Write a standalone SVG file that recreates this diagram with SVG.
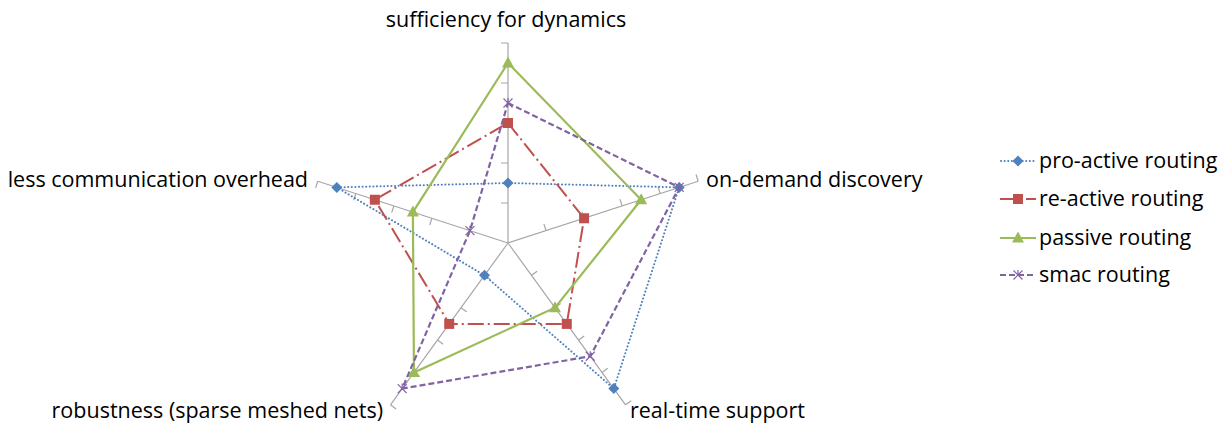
<svg xmlns="http://www.w3.org/2000/svg" width="1225" height="424" viewBox="0 0 1225 424">
<style>
.lbl{font-family:"Open Sans","Liberation Sans",sans-serif;font-size:21.5px;fill:#000}
.axis{stroke:#A6A6A6;stroke-width:1.2;fill:none}
.s1{stroke:#4F81BD;stroke-width:2;stroke-dasharray:0.1 3.5;stroke-linecap:round;fill:none}
.s2{stroke:#C0504D;stroke-width:2;stroke-dasharray:16 4 2 4;fill:none}
.s3{stroke:#9BBB59;stroke-width:2.2;fill:none}
.s4{stroke:#8064A2;stroke-width:2.2;stroke-dasharray:6 3;fill:none}
.m1{fill:#4F81BD}
.m2{fill:#C0504D}
.m3{fill:#9BBB59}
.m4{stroke:#8064A2;stroke-width:1.2;fill:none}
</style>
<defs>
<path id="dia" d="M0,-5.5 L5.5,0 L0,5.5 L-5.5,0Z"/>
<rect id="sq" x="-5" y="-5" width="10" height="10"/>
<path id="tri" d="M0,-6.5 L6,4.5 L-6,4.5Z"/>
<path id="xx" d="M-4.5,-4.5 L4.5,4.5 M4.5,-4.5 L-4.5,4.5 M0,-5 L0,-1"/>
</defs>
<rect width="1225" height="424" fill="#fff"/>
<g id="axes" class="axis">
<path d="M508,243 L508,43 M508,243 L698.21,181.2 M508,243 L625.56,404.8 M508,243 L390.44,404.8 M508,243 L317.79,181.2"/>
<path d="M508,203 h-7 M508,163 h-7 M508,123 h-7 M508,83 h-7 M508,43 h-7"/>
<path d="M546.04,230.64 l-2.16,-6.66 M584.08,218.28 l-2.16,-6.66 M622.13,205.92 l-2.16,-6.66 M660.17,193.56 l-2.16,-6.66 M698.21,181.2 l-2.16,-6.66"/>
<path d="M531.51,275.36 l5.66,-4.12 M555.02,307.72 l5.66,-4.12 M578.54,340.08 l5.66,-4.12 M602.05,372.44 l5.66,-4.12 M625.56,404.8 l5.66,-4.12"/>
<path d="M484.49,275.36 l5.66,4.12 M460.98,307.72 l5.66,4.12 M437.46,340.08 l5.66,4.12 M413.95,372.44 l5.66,4.12 M390.44,404.8 l5.66,4.12"/>
<path d="M469.96,230.64 l-2.16,6.66 M431.92,218.28 l-2.16,6.66 M393.87,205.92 l-2.16,6.66 M355.83,193.56 l-2.16,6.66 M317.79,181.2 l-2.16,6.66"/>
</g>
<g id="connectors">
<g id="series-pro-active">
<path class="s1" d="M508,183 L679.19,187.38 L613.8,388.62 L484.49,275.36 L336.81,187.38Z"/>
<g class="m1">
<use href="#dia" x="508" y="183"/><use href="#dia" x="679.19" y="187.38"/><use href="#dia" x="613.8" y="388.62"/><use href="#dia" x="484.49" y="275.36"/><use href="#dia" x="336.81" y="187.38"/>
</g>
</g>
<g id="series-re-active">
<path class="s2" d="M508,123 L584.08,218.28 L566.78,323.9 L449.22,323.9 L374.85,199.74Z"/>
<g class="m2">
<use href="#sq" x="508" y="123"/><use href="#sq" x="584.08" y="218.28"/><use href="#sq" x="566.78" y="323.9"/><use href="#sq" x="449.22" y="323.9"/><use href="#sq" x="374.85" y="199.74"/>
</g>
</g>
<g id="series-passive">
<path class="s3" d="M508,63 L641.15,199.74 L555.02,307.72 L413.95,372.44 L412.89,212.1Z"/>
<g class="m3">
<use href="#tri" x="508" y="63"/><use href="#tri" x="641.15" y="199.74"/><use href="#tri" x="555.02" y="307.72"/><use href="#tri" x="413.95" y="372.44"/><use href="#tri" x="412.89" y="212.1"/>
</g>
</g>
<g id="series-smac">
<path class="s4" d="M508,103 L679.19,187.38 L590.29,356.26 L402.2,388.62 L469.96,230.64Z"/>
<g class="m4">
<use href="#xx" x="508" y="103"/><use href="#xx" x="679.19" y="187.38"/><use href="#xx" x="590.29" y="356.26"/><use href="#xx" x="402.2" y="388.62"/><use href="#xx" x="469.96" y="230.64"/>
</g>
</g>
</g>
<g id="labels">
<text id="lbl-top" class="lbl" x="506" y="27" text-anchor="middle">sufficiency for dynamics</text>
<text id="lbl-right" class="lbl" x="706" y="187">on-demand discovery</text>
<text id="lbl-rt" class="lbl" x="630" y="418">real-time support</text>
<text id="lbl-rob" class="lbl" x="383" y="418" text-anchor="end">robustness (sparse meshed nets)</text>
<text id="lbl-less" class="lbl" x="308" y="187" text-anchor="end">less communication overhead</text>
</g>
<g id="legend">
<g id="leg-pro">
<line class="s1" x1="1001" y1="161" x2="1036" y2="161"/>
<use class="m1" href="#dia" x="1018" y="161"/>
<text class="lbl" x="1039" y="168">pro-active routing</text>
</g>
<g id="leg-re">
<line class="s2" x1="1000" y1="199" x2="1036" y2="199"/>
<use class="m2" href="#sq" x="1018" y="199"/>
<text class="lbl" x="1039" y="206">re-active routing</text>
</g>
<g id="leg-pas">
<line class="s3" x1="1000" y1="238" x2="1036" y2="238"/>
<use class="m3" href="#tri" x="1018" y="238"/>
<text class="lbl" x="1039" y="245">passive routing</text>
</g>
<g id="leg-smac">
<line class="s4" x1="1000" y1="275" x2="1036" y2="275"/>
<use class="m4" href="#xx" x="1018" y="275"/>
<text class="lbl" x="1039" y="282">smac routing</text>
</g>
</g>
</svg>
